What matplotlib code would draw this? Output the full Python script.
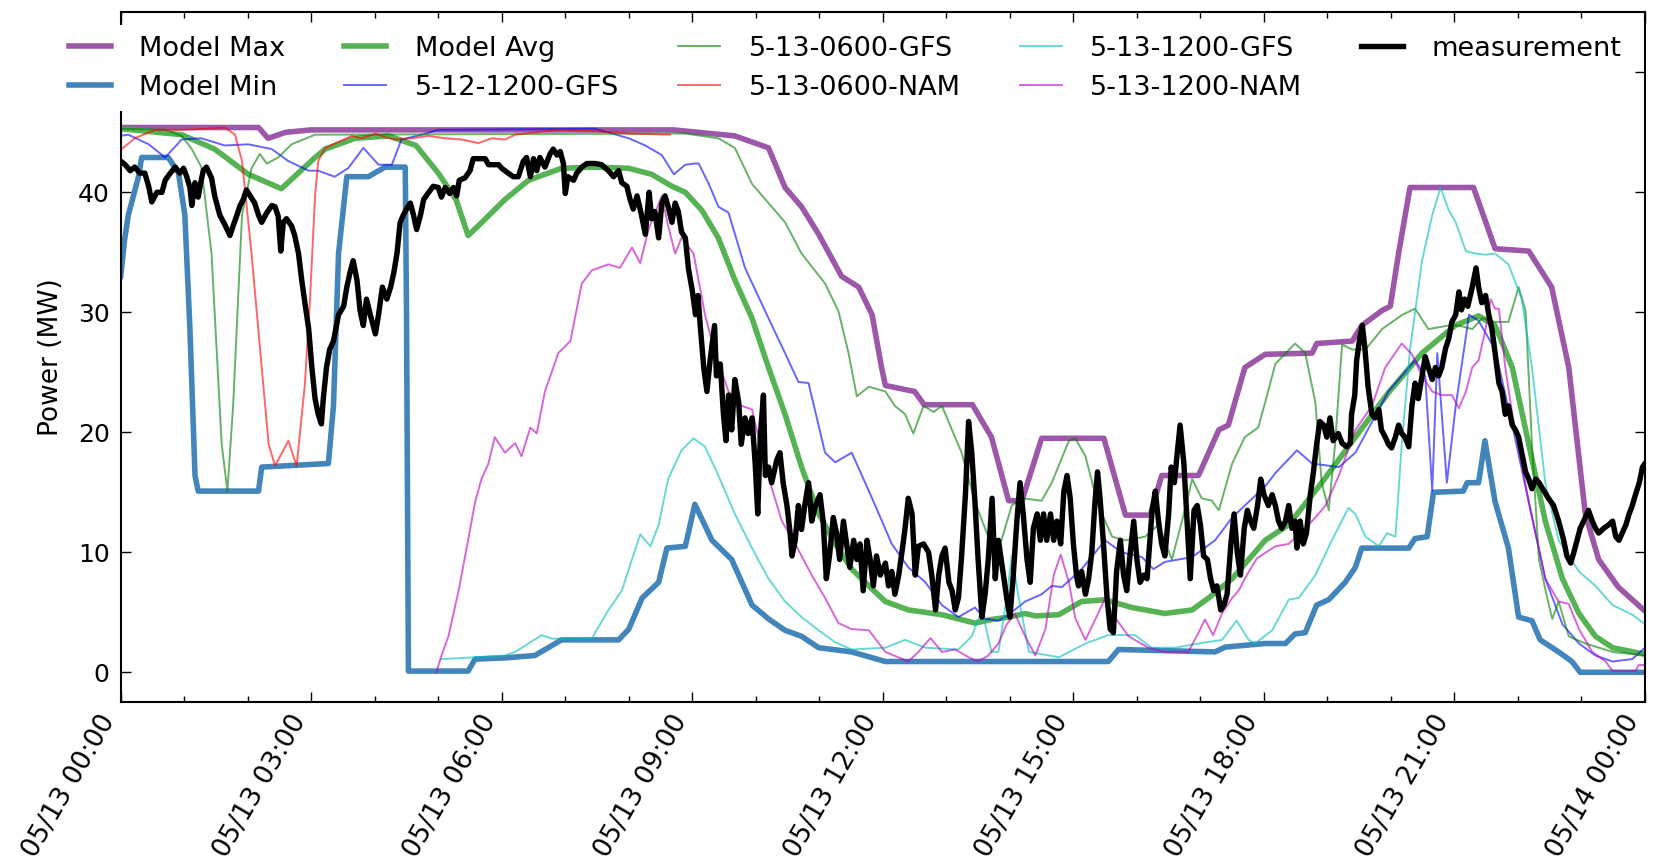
import numpy as np
import matplotlib
matplotlib.use("Agg")
import matplotlib.pyplot as plt
import matplotlib.dates as mdates

# ---------------- data (hours after 05/13 00:00, MW) ----------------
max_h = [0, 2.17, 2.32, 2.6, 3.0, 8.7, 9.67, 10.20, 10.46, 10.72,
         10.99, 11.35, 11.62, 11.83, 11.98, 12.04, 12.5, 12.65, 13.41, 13.71,
         13.98, 14.19, 14.50, 15.48, 15.82, 16.21, 16.39, 16.97, 17.29, 17.44,
         17.70, 18.02, 18.76, 18.83, 19.39, 19.54, 19.86, 19.99, 20.12, 20.30,
         21.30, 21.64, 22.17, 22.53, 22.80, 23.06, 23.27, 23.58, 24.0]
max_v = [45.4, 45.4, 44.5, 45.0, 45.2, 45.2, 44.7, 43.7, 40.4, 38.8,
         36.5, 33.0, 32.1, 29.8, 25.4, 23.9, 23.4, 22.3, 22.3, 19.6,
         14.3, 14.3, 19.5, 19.5, 13.1, 13.1, 16.4, 16.4, 20.2, 20.6,
         25.4, 26.5, 26.6, 27.4, 27.6, 28.9, 30.15, 30.5, 34.9, 40.4,
         40.4, 35.3, 35.1, 32.1, 25.4, 13.2, 9.4, 7.1, 5.1]

min_h = [0, 0.06, 0.12, 0.28, 0.33, 0.75, 0.91, 1.01, 1.09, 1.17,
         1.22, 2.17, 2.22, 3.27, 3.35, 3.43, 3.56, 3.90, 4.16, 4.48,
         4.50, 4.53, 5.47, 5.58, 6.05, 6.52, 6.94, 7.84, 8.0, 8.21,
         8.47, 8.60, 8.89, 9.04, 9.31, 9.62, 9.94, 10.20, 10.46, 10.72,
         10.99, 11.51, 12.04, 15.55, 15.71, 17.23, 17.39, 18.02, 18.34, 18.49,
         18.65, 18.83, 19.02, 19.28, 19.44, 19.54, 20.28, 20.38, 20.57, 20.67,
         21.14, 21.20, 21.38, 21.48, 21.64, 21.85, 22.01, 22.22, 22.35, 22.64,
         22.85, 22.98, 24.0]
min_v = [33.0, 36.0, 38.1, 41.3, 42.9, 42.9, 41.6, 38.1, 28.6, 16.4,
         15.1, 15.1, 17.1, 17.4, 22.2, 34.9, 41.3, 41.3, 42.1, 42.1,
         30.0, 0.1, 0.1, 1.1, 1.2, 1.4, 2.7, 2.7, 3.6, 6.2,
         7.5, 10.35, 10.5, 14.0, 11.0, 9.4, 5.6, 4.45, 3.5, 3.0,
         2.05, 1.7, 0.9, 0.9, 1.9, 1.7, 2.1, 2.4, 2.4, 3.2,
         3.3, 5.6, 6.05, 7.5, 8.75, 10.35, 10.35, 11.15, 11.3, 15.0,
         15.1, 15.8, 15.8, 19.3, 14.2, 10.35, 4.6, 4.3, 2.7, 1.7,
         0.9, 0.0, 0.0]

avg_h = [0, 0.96, 1.48, 2.01, 2.53, 3.06, 3.22, 3.69, 4.22, 4.65,
         5.0, 5.28, 5.47, 5.63, 6.05, 6.42, 6.94, 7.47, 8.0, 8.36,
         8.68, 8.89, 9.15, 9.41, 9.67, 9.94, 10.20, 10.46, 10.72, 10.99,
         11.25, 11.51, 11.78, 12.04, 12.40, 12.93, 13.45, 13.71, 13.98, 14.24,
         14.40, 14.77, 15.13, 15.50, 15.92, 16.44, 16.87, 17.13, 17.50, 17.76,
         18.02, 18.39, 18.91, 19.44, 19.96, 20.49, 21.01, 21.38, 21.64, 21.91,
         22.17, 22.43, 22.70, 22.96, 23.22, 23.49, 24.0]
avg_v = [45.3, 44.8, 43.6, 41.5, 40.3, 42.9, 43.6, 44.5, 44.7, 43.9,
         41.6, 39.4, 36.4, 37.2, 39.4, 41.0, 42.0, 42.1, 42.0, 41.5,
         40.5, 40.0, 38.5, 36.2, 32.7, 29.5, 25.4, 21.5, 17.1, 13.2,
         10.7, 8.6, 7.2, 5.9, 5.2, 4.8, 4.1, 4.4, 4.6, 4.9,
         4.7, 4.8, 5.9, 6.05, 5.4, 4.9, 5.2, 6.2, 7.8, 9.4,
         11.0, 12.3, 15.8, 19.6, 23.3, 26.6, 28.9, 29.7, 28.9, 25.4,
         19.0, 12.6, 7.8, 4.9, 3.0, 2.05, 1.5]

gfs0512_h = [0, 0.12, 0.44, 0.70, 0.96, 1.27, 1.64, 2.01, 2.38, 2.64,
             2.96, 3.11, 3.37, 3.58, 3.82, 4.06, 4.27, 4.42, 4.74, 5.0,
             7.47, 8.0, 8.26, 8.52, 8.71, 8.89, 9.04, 9.10, 9.26, 9.41,
             9.57, 9.83, 10.20, 10.46, 10.67, 10.83, 11.09, 11.25, 11.51, 11.78,
             11.88, 12.14, 12.40, 12.67, 12.93, 13.19, 13.45, 13.61, 13.82, 13.98,
             14.24, 14.50, 14.66, 14.82, 15.13, 15.50, 15.76, 16.08, 16.26, 16.44,
             16.87, 17.23, 17.50, 17.76, 18.02, 18.18, 18.52, 18.76, 19.18, 19.44,
             19.96, 20.38, 20.54, 20.65, 20.73, 20.88, 21.02, 21.23, 21.38, 21.64,
             21.91, 22.17, 22.43, 22.70, 22.96, 23.22, 23.49, 23.80, 24.0]
gfs0512_v = [44.7, 44.8, 44.0, 42.9, 44.4, 44.5, 43.9, 44.0, 43.6, 42.6,
             41.8, 41.8, 41.3, 42.0, 43.7, 42.3, 42.3, 44.4, 44.8, 45.2,
             45.3, 44.5, 43.9, 43.1, 41.5, 42.3, 42.4, 42.4, 40.7, 38.8,
             38.3, 33.7, 29.5, 26.6, 24.2, 24.1, 18.3, 17.5, 18.3, 15.1,
             13.9, 10.7, 8.75, 7.5, 5.6, 4.6, 5.4, 4.45, 4.3, 4.8,
             5.9, 6.5, 7.2, 7.1, 8.6, 11.0, 10.0, 9.6, 8.6, 9.2,
             9.6, 11.0, 12.9, 14.2, 15.5, 16.6, 18.5, 17.4, 17.1, 18.3,
             23.4, 26.0, 24.7, 15.1, 26.6, 15.8, 22.2, 29.8, 29.3, 26.9,
             20.6, 14.2, 7.8, 4.0, 2.4, 1.4, 0.9, 1.1, 2.05]

gfs0600_h = [0, 0.70, 0.96, 1.12, 1.27, 1.43, 1.59, 1.68, 1.77, 1.91,
             2.06, 2.19, 2.30, 2.48, 2.69, 3.06, 8.89, 9.41, 9.67, 9.94,
             10.20, 10.46, 10.72, 11.09, 11.30, 11.46, 11.59, 11.78, 12.04, 12.19,
             12.35, 12.48, 12.64, 12.80, 12.93, 13.24, 13.45, 13.66, 13.85, 14.03,
             14.19, 14.50, 14.66, 14.93, 15.03, 15.19, 15.39, 15.61, 15.82, 16.13,
             16.34, 16.55, 16.71, 16.87, 17.02, 17.18, 17.29, 17.50, 17.70, 17.91,
             18.02, 18.18, 18.49, 18.65, 18.81, 18.91, 19.02, 19.12, 19.23, 19.39,
             19.60, 19.86, 20.18, 20.38, 20.59, 20.91, 21.07, 21.28, 21.44, 21.64,
             21.85, 22.01, 22.12, 22.22, 22.33, 22.46, 22.54, 22.64, 22.80, 23.06,
             23.49, 24.0]
gfs0600_v = [45.3, 45.2, 44.7, 43.6, 42.1, 34.9, 19.0, 15.1, 22.2, 38.1,
             42.0, 43.2, 42.4, 42.9, 44.0, 44.8, 44.9, 44.5, 43.7, 40.7,
             39.1, 37.5, 34.9, 32.4, 30.1, 26.6, 23.0, 23.8, 23.4, 22.2,
             21.5, 19.9, 22.2, 21.7, 22.2, 18.3, 14.2, 11.3, 10.7, 13.9,
             14.5, 14.3, 15.8, 19.3, 19.5, 18.0, 13.9, 11.3, 11.0, 11.3,
             12.3, 9.4, 12.6, 16.1, 14.5, 14.3, 13.5, 17.4, 19.6, 20.4,
             22.5, 25.7, 27.4, 26.6, 22.5, 15.8, 13.5, 19.0, 27.3, 26.9,
             26.9, 28.6, 29.8, 30.3, 28.6, 28.9, 28.9, 28.6, 29.5, 29.2,
             29.2, 32.1, 30.1, 19.0, 9.4, 6.2, 4.45, 5.9, 3.0, 2.4,
             1.7, 1.4]

nam0600_h = [0, 0.015, 0.22, 0.54, 0.96, 1.38, 1.64, 1.80, 1.91, 2.06,
             2.22, 2.33, 2.43, 2.54, 2.64, 2.77, 2.90, 2.98, 3.06, 3.11,
             3.22, 3.43, 3.64, 3.80, 4.01, 4.16, 4.32, 4.58, 4.85, 5.11,
             5.37, 5.63, 5.84, 6.05, 6.21, 6.52, 6.94, 7.47, 8.0, 8.65]
nam0600_v = [43.9, 43.6, 44.5, 45.2, 45.2, 45.3, 45.4, 44.8, 42.6, 34.9,
             25.4, 19.0, 17.2, 18.3, 19.3, 17.2, 24.0, 31.0, 39.7, 42.6,
             43.7, 44.2, 44.7, 44.5, 44.9, 44.6, 44.4, 44.5, 44.7, 44.5,
             44.4, 44.1, 44.5, 44.4, 44.8, 45.0, 45.2, 45.1, 44.9, 44.8]

gfs1200_h = [5.05, 5.4, 6.05, 6.21, 6.63, 6.79, 7.42, 7.68, 7.89, 8.05,
             8.18, 8.34, 8.47, 8.62, 8.83, 9.02, 9.20, 9.41, 9.67, 9.94,
             10.20, 10.46, 10.72, 10.99, 11.25, 11.51, 12.04, 12.35, 12.67, 13.19,
             13.40, 13.56, 13.71, 13.82, 13.95, 14.03, 14.14, 14.30, 14.77, 15.19,
             15.55, 15.97, 16.23, 16.60, 16.97, 17.34, 17.57, 17.76, 17.86, 18.13,
             18.39, 18.55, 18.81, 19.07, 19.33, 19.44, 19.60, 19.81, 19.94, 20.07,
             20.17, 20.30, 20.49, 20.65, 20.78, 20.91, 21.02, 21.18, 21.33, 21.49,
             21.64, 21.85, 22.06, 22.22, 22.43, 22.64, 22.96, 23.22, 23.49, 23.80,
             24.0]
gfs1200_v = [1.1, 1.2, 1.4, 1.7, 3.1, 2.8, 2.85, 5.2, 6.8, 9.4,
             11.5, 10.5, 12.3, 16.1, 18.5, 19.5, 18.8, 16.4, 13.2, 10.35,
             7.8, 5.9, 4.6, 3.5, 2.5, 1.9, 2.05, 2.7, 2.05, 1.9,
             3.0, 5.2, 1.7, 1.7, 6.2, 9.7, 6.2, 1.7, 1.25, 2.4,
             3.1, 3.1, 2.05, 2.05, 2.4, 2.7, 4.3, 2.7, 2.4, 3.5,
             6.05, 6.2, 8.1, 11.0, 13.7, 13.2, 11.3, 10.5, 11.6, 11.3,
             19.0, 26.9, 34.3, 38.1, 40.4, 38.5, 37.5, 35.1, 34.9, 34.8,
             34.9, 34.0, 31.1, 25.4, 15.8, 11.0, 8.4, 7.2, 5.6, 4.8,
             4.0]

nam1200_h = [4.97, 5.05, 5.16, 5.32, 5.47, 5.58, 5.68, 5.79, 5.89, 6.05,
             6.21, 6.31, 6.45, 6.55, 6.68, 6.89, 7.08, 7.26, 7.42, 7.68,
             7.86, 8.05, 8.18, 8.31, 8.52, 8.62, 8.73, 8.83, 9.02, 9.20,
             9.36, 9.57, 9.78, 9.94, 10.15, 10.41, 10.62, 10.88, 11.09, 11.30,
             11.51, 11.78, 12.04, 12.40, 12.56, 12.75, 12.93, 13.14, 13.35, 13.50,
             13.66, 13.82, 13.95, 14.08, 14.24, 14.40, 14.56, 14.69, 14.80, 14.93,
             15.03, 15.19, 15.39, 15.50, 15.61, 15.87, 16.18, 16.44, 16.81, 16.97,
             17.07, 17.20, 17.34, 17.50, 17.60, 17.73, 17.89, 18.18, 18.39, 18.65,
             18.81, 18.97, 19.18, 19.44, 19.70, 19.91, 20.17, 20.33, 20.49, 20.65,
             20.80, 20.96, 21.07, 21.18, 21.28, 21.38, 21.49, 21.57, 21.64, 21.70,
             21.80, 21.91, 22.17, 22.43, 22.64, 22.80, 22.96, 23.17, 23.38, 23.49,
             23.85, 23.90, 24.0]
nam1200_v = [0.0, 1.4, 3.0, 6.8, 11.0, 14.2, 16.1, 17.4, 19.6, 18.3,
             19.1, 18.0, 20.4, 19.9, 23.4, 26.6, 27.6, 32.4, 33.5, 34.0,
             33.7, 35.4, 34.1, 36.9, 39.7, 37.2, 34.9, 36.2, 34.9, 29.8,
             26.6, 23.4, 22.2, 21.9, 17.1, 12.6, 10.7, 8.1, 6.2, 4.1,
             3.6, 3.5, 1.7, 0.9, 1.7, 2.85, 1.7, 1.9, 1.25, 0.9,
             1.4, 2.4, 4.0, 4.9, 3.0, 1.4, 3.6, 8.1, 9.8, 7.5,
             4.5, 2.7, 4.9, 6.2, 4.9, 3.0, 2.05, 1.7, 1.7, 3.3,
             4.4, 3.1, 4.9, 6.2, 6.8, 8.1, 9.5, 10.5, 10.7, 12.0,
             12.9, 13.9, 16.4, 20.2, 22.2, 25.4, 27.4, 26.5, 24.7, 23.4,
             23.1, 23.1, 22.0, 23.4, 25.4, 26.0, 28.6, 31.1, 30.3, 30.3,
             25.4, 21.5, 14.2, 7.8, 5.9, 5.7, 3.6, 1.7, 0.9, 0.1,
             0.1, 0.6, 0.6]

meas_h = [0.0, 0.07, 0.15, 0.22, 0.30, 0.38, 0.44, 0.49, 0.57, 0.65,
          0.70, 0.78, 0.86, 0.93, 0.99, 1.04, 1.09, 1.12, 1.17, 1.22,
          1.26, 1.30, 1.35, 1.43, 1.48, 1.56, 1.64, 1.72, 1.77, 1.83,
          1.88, 1.93, 1.98, 2.04, 2.11, 2.17, 2.22, 2.30, 2.38, 2.43,
          2.48, 2.52, 2.56, 2.61, 2.69, 2.74, 2.80, 2.85, 2.90, 2.96,
          3.01, 3.06, 3.11, 3.16, 3.19, 3.24, 3.29, 3.35, 3.43, 3.51,
          3.56, 3.61, 3.66, 3.72, 3.77, 3.82, 3.87, 3.93, 4.01, 4.06,
          4.12, 4.19, 4.25, 4.30, 4.35, 4.40, 4.45, 4.50, 4.56, 4.61,
          4.66, 4.72, 4.77, 4.85, 4.92, 5.0, 5.05, 5.11, 5.18, 5.24,
          5.29, 5.33, 5.42, 5.50, 5.55, 5.74, 5.79, 5.95, 6.0, 6.10,
          6.18, 6.26, 6.34, 6.39, 6.45, 6.50, 6.55, 6.60, 6.68, 6.76,
          6.81, 6.87, 6.92, 6.97, 7.0, 7.04, 7.13, 7.18, 7.26, 7.34,
          7.47, 7.57, 7.68, 7.76, 7.84, 7.89, 7.97, 8.02, 8.07, 8.13,
          8.20, 8.26, 8.32, 8.36, 8.41, 8.47, 8.52, 8.57, 8.62, 8.68,
          8.73, 8.78, 8.83, 8.89, 8.94, 9.0, 9.05, 9.09, 9.12, 9.18,
          9.23, 9.28, 9.35, 9.38, 9.44, 9.49, 9.53, 9.57, 9.62, 9.67,
          9.73, 9.77, 9.83, 9.88, 9.94, 9.99, 10.03, 10.07, 10.12, 10.15,
          10.20, 10.25, 10.33, 10.38, 10.43, 10.49, 10.54, 10.57, 10.62, 10.67,
          10.72, 10.77, 10.83, 10.88, 10.94, 11.01, 11.06, 11.11, 11.16, 11.22,
          11.27, 11.32, 11.38, 11.43, 11.48, 11.54, 11.59, 11.64, 11.69, 11.75,
          11.80, 11.85, 11.90, 11.96, 12.04, 12.09, 12.14, 12.19, 12.25, 12.30,
          12.35, 12.40, 12.46, 12.51, 12.56, 12.64, 12.72, 12.77, 12.83, 12.88,
          12.93, 12.98, 13.04, 13.09, 13.14, 13.19, 13.24, 13.30, 13.35, 13.40,
          13.45, 13.50, 13.56, 13.61, 13.66, 13.72, 13.77, 13.82, 13.89, 13.95,
          14.0, 14.05, 14.11, 14.16, 14.21, 14.27, 14.32, 14.37, 14.43, 14.48,
          14.53, 14.58, 14.64, 14.69, 14.74, 14.80, 14.85, 14.90, 14.95, 15.0,
          15.05, 15.08, 15.13, 15.19, 15.24, 15.29, 15.34, 15.38, 15.42, 15.47,
          15.53, 15.58, 15.63, 15.68, 15.74, 15.79, 15.84, 15.89, 15.95, 16.00,
          16.05, 16.11, 16.16, 16.24, 16.29, 16.34, 16.39, 16.44, 16.50, 16.54,
          16.59, 16.63, 16.68, 16.74, 16.79, 16.84, 16.90, 16.95, 17.00, 17.05,
          17.11, 17.16, 17.21, 17.26, 17.32, 17.37, 17.42, 17.48, 17.53, 17.58,
          17.63, 17.69, 17.74, 17.79, 17.84, 17.90, 17.95, 18.0, 18.07, 18.13,
          18.18, 18.23, 18.28, 18.34, 18.39, 18.44, 18.49, 18.52, 18.57, 18.62,
          18.67, 18.73, 18.78, 18.83, 18.88, 18.94, 18.99, 19.04, 19.09, 19.17,
          19.23, 19.30, 19.36, 19.38, 19.43, 19.46, 19.51, 19.55, 19.59, 19.64,
          19.70, 19.75, 19.81, 19.85, 19.91, 19.96, 20.01, 20.07, 20.12, 20.17,
          20.22, 20.28, 20.33, 20.38, 20.43, 20.49, 20.54, 20.59, 20.65, 20.70,
          20.75, 20.80, 20.86, 20.91, 20.96, 21.02, 21.07, 21.11, 21.16, 21.21,
          21.28, 21.34, 21.38, 21.43, 21.49, 21.54, 21.59, 21.64, 21.70, 21.75,
          21.80, 21.85, 21.91, 21.96, 22.01, 22.06, 22.12, 22.17, 22.22, 22.28,
          22.33, 22.41, 22.48, 22.56, 22.64, 22.72, 22.77, 22.83, 22.88, 22.93,
          22.98, 23.06, 23.11, 23.17, 23.22, 23.27, 23.35, 23.43, 23.49, 23.54,
          23.59, 23.64, 23.70, 23.75, 23.80, 23.85, 23.91, 23.96, 24.0]
meas_v = [42.6, 42.3, 41.8, 42.1, 41.6, 41.6, 40.5, 39.2, 40.0, 40.0,
          41.0, 41.6, 42.1, 41.6, 42.0, 41.3, 40.4, 38.9, 40.8, 39.6,
          40.8, 41.8, 42.1, 41.2, 39.7, 38.1, 37.3, 36.4, 37.2, 38.1,
          38.9, 39.4, 40.2, 39.7, 39.1, 38.1, 37.5, 38.3, 38.9, 38.8,
          38.0, 35.1, 37.5, 37.8, 37.2, 36.4, 34.9, 32.7, 30.8, 28.6,
          25.4, 22.8, 21.5, 20.7, 22.8, 25.4, 26.9, 27.6, 29.8, 30.5,
          32.1, 33.3, 34.3, 32.7, 30.1, 28.9, 31.1, 29.8, 28.2, 29.8,
          32.1, 31.1, 32.1, 33.3, 34.9, 37.5, 38.1, 38.6, 39.1, 38.1,
          36.9, 38.1, 39.4, 40.0, 40.5, 40.4, 39.6, 40.4, 39.9, 40.4,
          39.7, 41.0, 41.2, 41.8, 42.8, 42.8, 42.3, 42.3, 42.0, 41.6,
          41.3, 41.3, 42.6, 42.9, 41.3, 42.8, 41.8, 42.9, 42.1, 43.2,
          43.6, 43.1, 43.4, 42.4, 39.9, 41.3, 41.0, 41.6, 42.1, 42.4,
          42.4, 42.3, 41.8, 41.3, 41.8, 40.8, 40.5, 39.4, 38.6, 39.7,
          38.1, 36.5, 40.0, 37.8, 38.4, 36.2, 39.1, 39.7, 38.8, 37.5,
          39.1, 38.4, 36.7, 36.2, 33.6, 31.8, 29.8, 31.4, 29.2, 25.4,
          23.4, 26.0, 28.9, 24.7, 25.7, 21.5, 19.3, 23.1, 20.2, 24.4,
          22.5, 19.0, 21.2, 19.9, 21.2, 17.4, 13.2, 19.6, 23.1, 16.4,
          17.1, 15.8, 17.7, 18.3, 15.8, 13.9, 11.6, 9.7, 11.0, 13.9,
          11.9, 13.9, 15.8, 12.6, 13.9, 14.8, 12.6, 7.8, 9.7, 12.9,
          11.6, 9.4, 12.6, 10.7, 8.75, 11.0, 9.4, 10.7, 6.8, 11.0,
          9.4, 7.2, 9.7, 8.1, 9.1, 7.2, 8.4, 6.5, 8.1, 10.0,
          12.0, 14.5, 13.2, 8.1, 10.5, 10.7, 10.0, 8.1, 5.2, 8.1,
          9.7, 10.35, 7.5, 6.8, 5.2, 6.2, 9.7, 14.8, 20.9, 18.3,
          14.2, 9.4, 4.6, 6.5, 9.4, 14.5, 7.8, 11.0, 8.4, 6.2,
          4.6, 7.8, 12.6, 15.8, 13.2, 9.4, 7.5, 12.0, 13.2, 11.0,
          13.2, 11.0, 13.2, 11.0, 12.6, 10.7, 15.1, 16.4, 14.5, 10.7,
          8.0, 7.2, 8.4, 6.5, 7.8, 10.0, 14.2, 16.7, 14.5, 11.0,
          6.2, 3.6, 3.3, 8.4, 11.0, 8.1, 6.8, 9.7, 12.6, 9.4,
          7.5, 8.1, 7.8, 13.5, 15.1, 12.6, 10.7, 9.7, 13.2, 17.1,
          15.8, 18.0, 20.6, 17.4, 12.6, 7.8, 13.5, 13.9, 12.3, 9.7,
          9.4, 7.8, 6.8, 7.2, 5.2, 5.6, 6.5, 10.7, 13.2, 10.0,
          8.1, 12.0, 13.5, 12.6, 12.0, 13.9, 16.1, 14.8, 13.9, 14.8,
          13.9, 12.6, 12.0, 12.6, 13.9, 12.0, 12.6, 10.35, 12.6, 10.7,
          11.6, 14.8, 16.7, 19.0, 20.9, 20.6, 19.6, 21.2, 19.3, 19.9,
          19.1, 18.8, 19.1, 21.5, 23.1, 26.0, 27.9, 28.9, 27.0, 23.8,
          21.5, 21.2, 21.9, 20.2, 19.6, 19.0, 18.7, 19.6, 20.6, 19.9,
          19.6, 18.8, 22.2, 24.1, 22.8, 24.7, 26.3, 25.4, 24.4, 25.4,
          24.7, 25.4, 27.0, 27.8, 29.2, 29.8, 31.7, 30.2, 31.1, 30.5,
          32.1, 33.7, 32.1, 30.8, 31.4, 29.8, 28.6, 26.6, 24.1, 23.4,
          21.5, 22.2, 20.6, 20.2, 19.6, 18.3, 16.7, 16.1, 15.3, 16.1,
          15.8, 15.1, 14.5, 13.9, 12.6, 11.0, 9.7, 9.1, 10.0, 11.0,
          12.0, 12.9, 13.5, 12.6, 12.0, 11.6, 12.0, 12.3, 12.6, 11.3,
          11.0, 11.6, 12.3, 13.2, 13.9, 14.8, 15.8, 17.1, 17.4]

series_labels = ["Model Max", "Model Min", "Model Avg", "5-12-1200-GFS",
                 "5-13-0600-GFS", "5-13-0600-NAM", "5-13-1200-GFS",
                 "5-13-1200-NAM", "measurement"]

# ---------------- plotting ----------------
base = np.datetime64("2016-05-13T00:00:00")


def to_time(hours):
    return base + (np.asarray(hours, dtype=float) * 3600).astype("timedelta64[s]")


plt.rcParams["font.family"] = ["DejaVu Sans"]

W, H = 1653, 865
fig = plt.figure(figsize=(W / 100, H / 100), dpi=100)
fig.patch.set_facecolor("white")
ax_l, ax_r, ax_t, ax_b = 120.7, 1645.0, 12.3, 702.3
ax = fig.add_axes([ax_l / W, 1 - ax_b / H, (ax_r - ax_l) / W, (ax_b - ax_t) / H])

specs = [
    (max_h, max_v, dict(color="#984ea3", lw=4.0, alpha=0.95)),
    (min_h, min_v, dict(color="#377eb8", lw=4.0, alpha=0.95)),
    (avg_h, avg_v, dict(color="#4daf4a", lw=4.0, alpha=0.95)),
    (gfs0512_h, gfs0512_v, dict(color="b", lw=1.4, alpha=0.6)),
    (gfs0600_h, gfs0600_v, dict(color="g", lw=1.4, alpha=0.6)),
    (nam0600_h, nam0600_v, dict(color="r", lw=1.4, alpha=0.6)),
    (gfs1200_h, gfs1200_v, dict(color="c", lw=1.4, alpha=0.6)),
    (nam1200_h, nam1200_v, dict(color="m", lw=1.4, alpha=0.6)),
    (meas_h, meas_v, dict(color="black", lw=3.9, alpha=1.0)),
]
handles = []
for (hh, vv, st), lab in zip(specs, series_labels):
    ln, = ax.plot(to_time(hh), vv, label=lab, solid_joinstyle="round", **st)
    handles.append(ln)

ax.set_xlim(to_time([0])[0], to_time([24])[0])
ax.set_ylim(-2.5, 55)
ax.set_yticks([0, 10, 20, 30, 40, 50])

ax.xaxis.set_major_locator(mdates.HourLocator(byhour=range(0, 24, 3)))
ax.xaxis.set_minor_locator(mdates.HourLocator())
ax.xaxis.set_major_formatter(mdates.DateFormatter("%m/%d %H:%M"))

ax.tick_params(which="both", direction="in", top=True, right=True, width=1.0)
ax.tick_params(which="major", length=7.5)
ax.tick_params(which="minor", length=4.5)
ax.tick_params(axis="y", labelsize=18, pad=8)
ax.tick_params(axis="x", labelsize=19, pad=6)
for lbl in ax.get_xticklabels():
    lbl.set_rotation(60)
    lbl.set_ha("right")
for sp in ax.spines.values():
    sp.set_linewidth(1.5)

ax.set_ylabel("Power (MW)", fontsize=19)
ax.yaxis.set_label_coords(-0.037, 0.5)

leg = ax.legend(handles=handles, loc="upper left",
                bbox_to_anchor=(58 / W, 1 - 25 / H), bbox_transform=fig.transFigure,
                ncol=5, fontsize=19.5, frameon=True, framealpha=1.0,
                facecolor="white", edgecolor="none", fancybox=False,
                handlelength=1.55, handletextpad=1.05, columnspacing=2.18,
                labelspacing=0.47, borderpad=0.4, borderaxespad=0)

fig.savefig("out.png", dpi=100, facecolor="white")
